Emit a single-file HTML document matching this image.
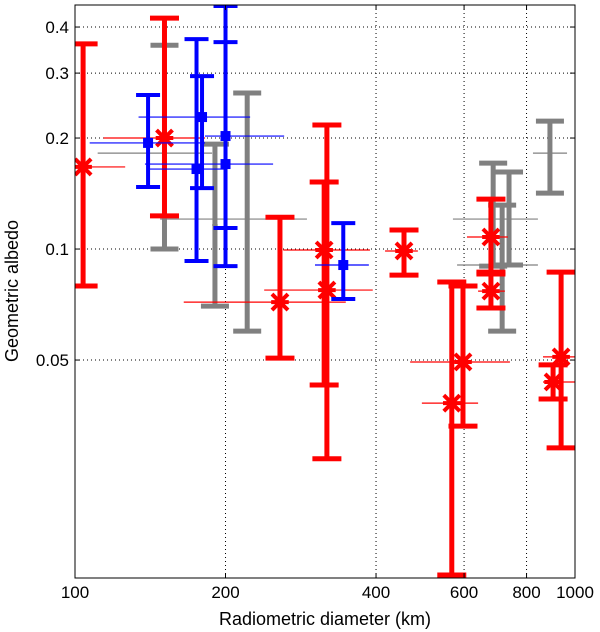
<!DOCTYPE html>
<html><head><meta charset="utf-8"><style>
html,body{margin:0;padding:0;background:#fff;}
svg{display:block;font-family:"Liberation Sans",Arial,sans-serif;}
</style></head><body>
<svg id="chart" width="600" height="632" viewBox="0 0 600 632" xmlns="http://www.w3.org/2000/svg"></svg>
<script>
// Data arrays (diameter km, albedo)
const xTicks = [100, 200, 400, 600, 800, 1000];
const xTickLabels = ["100", "200", "400", "600", "800", "1000"];
const yTicks = [0.05, 0.1, 0.2, 0.3, 0.4];
const yTickLabels = ["0.05", "0.1", "0.2", "0.3", "0.4"];

const redD    = [103.8, 151, 257, 315, 319, 455, 567, 597, 679, 679, 938, 904];
const redDLo  = [85, 114, 165, 261, 239, 417, 494, 468, 608, 640, 863, 863];
const redDHi  = [126, 182, 348, 389, 394, 485, 640, 741, 734, 724, 1000, 1000];
const redA    = [0.167, 0.200, 0.0718, 0.0994, 0.0774, 0.0988, 0.0382, 0.0494, 0.1078, 0.0769, 0.0510, 0.0436];
const redALo  = [0.0794, 0.123, 0.0506, 0.0428, 0.0270, 0.0850, 0.01306, 0.0331, 0.0866, 0.0692, 0.0289, 0.0392];
const redAHi  = [0.360, 0.423, 0.122, 0.152, 0.217, 0.1126, 0.0814, 0.0794, 0.1366, 0.0856, 0.0866, 0.0485];

const blueD   = [140, 179.5, 175, 200, 200, 344];
const blueDLo = [107, 134, 141, 182, 138, 302];
const blueDHi = [182, 224, 200, 262, 249, 387];
const blueA   = [0.194, 0.228, 0.1648, 0.2025, 0.170, 0.0905];
const blueALo = [0.1473, 0.1463, 0.0928, 0.1140, 0.0899, 0.0732];
const blueAHi = [0.2616, 0.2945, 0.371, 0.364, 0.456, 0.1176];

const grayD   = [151, 190.5, 221, 686, 738, 715, 891];
const grayDLo = [111, 188, 148, 570, 735, 581, 824];
const grayDHi = [188, 193, 291, 843, 741, 843, 964];
const grayA   = [0.182, 0.1162, 0.1206, 0.1206, 0.1214, 0.0905, 0.182];
const grayALo = [0.1, 0.0700, 0.0599, 0.0899, 0.0905, 0.0599, 0.1418];
const grayAHi = [0.357, 0.1926, 0.265, 0.171, 0.1618, 0.1316, 0.2223];

const L=75, R=575, T=5, B=578;
const xMin=100, xMax=1000, yMin=0.01282, yMax=0.459;
function xs(v){return L+(R-L)*Math.log10(v/xMin)/Math.log10(xMax/xMin);}
function ys(v){return B-(B-T)*Math.log10(v/yMin)/Math.log10(yMax/yMin);}

const NS="http://www.w3.org/2000/svg";
const svg=document.getElementById('chart');
function mk(tag,attrs,parent){const e=document.createElementNS(NS,tag);for(const k in attrs)e.setAttribute(k,attrs[k]);(parent||svg).appendChild(e);return e;}

const defs=mk('defs',{});
const cp=mk('clipPath',{id:'clip'},defs);
mk('rect',{x:L,y:T,width:R-L,height:B-T},cp);

const grid=mk('g',{});


xTicks.forEach(t=>{const l=mk('line',{x1:xs(t),x2:xs(t),y1:T,y2:B,stroke:'#000','stroke-width':1,'stroke-dasharray':'1,3'},grid);

});
yTicks.forEach(t=>{const l=mk('line',{x1:L,x2:R,y1:ys(t),y2:ys(t),stroke:'#000','stroke-width':1,'stroke-dasharray':'1,3'},grid);

});

const plot=mk('g',{'clip-path':'url(#clip)'});



function drawSeries(name,color,D,DLo,DHi,A,ALo,AHi,bw,cw,marker){
  const g=mk('g',{},plot);
  
  
  for(let i=0;i<D.length;i++){
    const p=mk('g',{},g);
    
    
    const x=xs(D[i]), y=ys(A[i]), y1=ys(AHi[i]), y2=ys(ALo[i]);
    mk('line',{x1:xs(DLo[i]),x2:xs(DHi[i]),y1:y,y2:y,stroke:color,'stroke-width':1.2},p);
    mk('line',{x1:x,x2:x,y1:y1,y2:y2,stroke:color,'stroke-width':bw},p);
    mk('line',{x1:x-cw/2,x2:x+cw/2,y1:y1,y2:y1,stroke:color,'stroke-width':bw},p);
    mk('line',{x1:x-cw/2,x2:x+cw/2,y1:y2,y2:y2,stroke:color,'stroke-width':bw},p);
    if(marker==='x'){
      const s=8;
      mk('path',{d:`M${x-s},${y-s}L${x+s},${y+s}M${x-s},${y+s}L${x+s},${y-s}M${x-s*1.1},${y}L${x+s*1.1},${y}`,stroke:color,'stroke-width':4,fill:'none'},p);
    } else if(marker==='sq'){
      mk('rect',{x:x-5,y:y-5,width:10,height:10,fill:color},p);
    }
  }
}
drawSeries('gray','#808080',grayD,grayDLo,grayDHi,grayA,grayALo,grayAHi,5,28,null);
drawSeries('red','#ff0000',redD,redDLo,redDHi,redA,redALo,redAHi,5,29,'x');
drawSeries('blue','#0000ff',blueD,blueDLo,blueDHi,blueA,blueALo,blueAHi,4,24,'sq');

const fr=mk('rect',{x:L,y:T,width:R-L,height:B-T,fill:'none',stroke:'#000','stroke-width':1});



xTicks.forEach((t,i)=>{const x=xs(t);
  mk('line',{x1:x,x2:x,y1:B,y2:B-5,stroke:'#000'});
  mk('line',{x1:x,x2:x,y1:T,y2:T+5,stroke:'#000'});
  const tx=mk('text',{x:x,y:B+20,'font-size':17,'text-anchor':'middle',fill:'#000'});
  tx.textContent=xTickLabels[i];
  
  
});
yTicks.forEach((t,i)=>{const y=ys(t);
  mk('line',{x1:L,x2:L+5,y1:y,y2:y,stroke:'#000'});
  mk('line',{x1:R,x2:R-5,y1:y,y2:y,stroke:'#000'});
  const tx=mk('text',{x:L-6,y:y+6,'font-size':17,'text-anchor':'end',fill:'#000'});
  tx.textContent=yTickLabels[i];
  
  
});
const xt=mk('text',{x:325,y:625,'font-size':18,'text-anchor':'middle',fill:'#000'});
xt.textContent='Radiometric diameter (km)';


const yt=mk('text',{x:0,y:0,'font-size':18,'text-anchor':'middle',fill:'#000',transform:'translate(18,291) rotate(-90)'});
yt.textContent='Geometric albedo';


</script>
</body></html>
